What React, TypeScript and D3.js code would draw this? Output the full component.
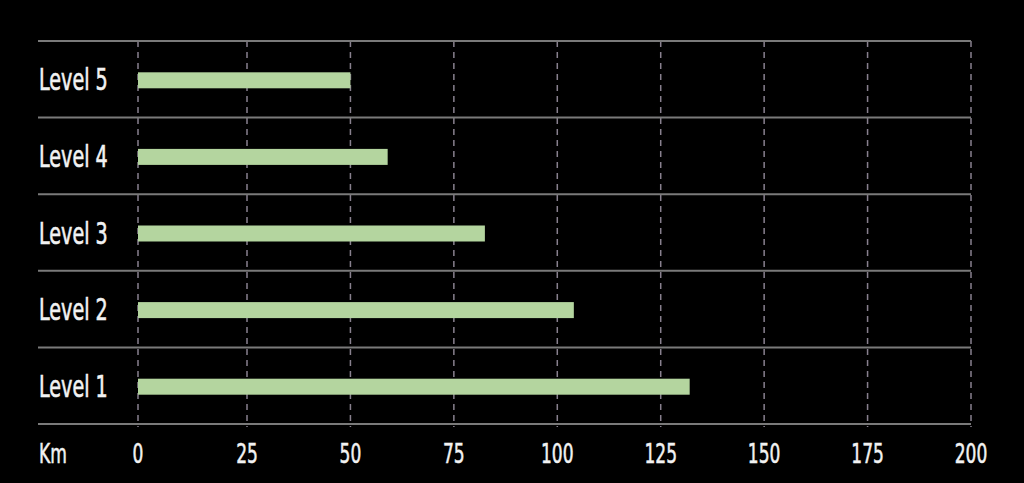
import React, { useRef, useEffect } from 'react';
import * as d3 from 'd3';

const levels = ['Level 5', 'Level 4', 'Level 3', 'Level 2', 'Level 1'];
const distances = [50, 59, 82.5, 104, 132];
const ticks = [0, 25, 50, 75, 100, 125, 150, 175, 200];
const axisTitle = 'Km';

const App = () => {
    const ref = useRef<SVGSVGElement>(null);

    useEffect(() => {
        const width = 1024;
        const height = 483;
        const svg = d3.select(ref.current);
        svg.selectAll('*').remove();
        svg.attr('width', width).attr('height', height);

        svg.append('rect').attr('width', width).attr('height', height).attr('fill', '#000');

        // the source axis has a slightly wider first interval
        const x = d3.scaleLinear().domain([0, 25, 200]).range([138, 247, 971]);
        const y = d3.scaleBand().domain(levels).range([41, 424]);
        const lineLeft = 38;
        const font = '"DejaVu Sans Condensed", "Liberation Sans Narrow", sans-serif';

        // vertical dashed grid
        svg.append('g')
            .selectAll('line')
            .data(ticks)
            .enter().append('line')
            .attr('x1', d => x(d)).attr('x2', d => x(d))
            .attr('y1', 41).attr('y2', 427)
            .attr('stroke', '#88808e')
            .attr('stroke-width', 1.5)
            .attr('stroke-dasharray', '6,5');

        // horizontal row separators
        const seps = levels.map(l => y(l) as number).concat([424]);
        svg.append('g')
            .selectAll('line')
            .data(seps)
            .enter().append('line')
            .attr('x1', lineLeft).attr('x2', x(200))
            .attr('y1', d => d).attr('y2', d => d)
            .attr('stroke', '#7a7a7a')
            .attr('stroke-width', 2);

        // bars
        const barH = 16;
        svg.append('g')
            .selectAll('rect')
            .data(levels)
            .enter().append('rect')
            .attr('x', x(0))
            .attr('y', d => (y(d) as number) + y.bandwidth() / 2 - barH / 2 + 1)
            .attr('width', (d, i) => x(distances[i]) - x(0))
            .attr('height', barH)
            .attr('fill', '#b4d59f');

        // category labels
        svg.append('g')
            .selectAll('text')
            .data(levels)
            .enter().append('text')
            .attr('transform', d => `translate(${lineLeft + 1},${(y(d) as number) + y.bandwidth() / 2 + 11}) scale(0.71,1)`)
            .attr('fill', '#f2f2f2')
            .attr('font-family', font)
            .attr('font-size', 30)
            .attr('font-weight', 'normal')
            .attr('stroke', '#f2f2f2')
            .attr('stroke-width', 0.6)
            .text(d => d);

        // tick labels
        svg.append('g')
            .selectAll('text')
            .data(ticks)
            .enter().append('text')
            .attr('transform', d => `translate(${x(d)},${463}) scale(0.73,1)`)
            .attr('text-anchor', 'middle')
            .attr('fill', '#f2f2f2')
            .attr('font-family', font)
            .attr('font-size', 26)
            .attr('font-weight', 'normal')
            .attr('stroke', '#f2f2f2')
            .attr('stroke-width', 0.5)
            .text(d => d);

        svg.append('text')
            .attr('transform', `translate(${lineLeft + 1},${463}) scale(0.73,1)`)
            .attr('fill', '#f2f2f2')
            .attr('font-family', font)
            .attr('font-size', 26)
            .attr('font-weight', 'normal')
            .attr('stroke', '#f2f2f2')
            .attr('stroke-width', 0.5)
            .text(axisTitle);
    }, []);

    return (
        <div style={{ position: 'absolute', left: 0, top: 0, background: '#000' }}>
            <svg ref={ref} style={{ display: 'block' }}></svg>
        </div>
    );
};

export default App;
